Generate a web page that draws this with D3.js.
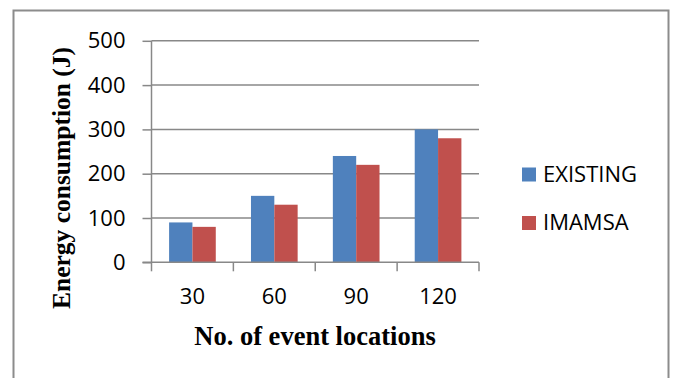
<!DOCTYPE html>
<html><head><meta charset="utf-8">
<script src="https://cdn.jsdelivr.net/npm/d3@7"></script>
<style>html,body{margin:0;padding:0;background:#fff;}svg{display:block;}</style>
</head><body>
<svg id="c" width="673" height="378"></svg>
<script>
const categories = ["30", "60", "90", "120"];
const seriesNames = ["EXISTING", "IMAMSA"];
const existing = [90, 150, 240, 300];
const imamsa = [80, 130, 220, 280];
const yTicks = [0, 100, 200, 300, 400, 500];
const colors = ["#4F81BD", "#C0504D"];

const svg = d3.select("#c");
const pLeft = 151.5, pRight = 479, pTop = 40.8, pBottom = 262.3;
const gridColor = "#888888";

// outer border
svg.append("rect").attr("x", 13.5).attr("y", 10.5).attr("width", 655).attr("height", 380)
  .attr("fill", "none").attr("stroke", "#8c8c8c").attr("stroke-width", 2);

const y = d3.scaleLinear().domain([0, 500]).range([pBottom, pTop]);
const x0 = d3.scaleBand().domain(categories).range([pLeft, pRight]).padding(0);
const x1 = d3.scaleBand().domain(seriesNames)
  .range([x0.bandwidth() * 0.215, x0.bandwidth() * 0.785]).padding(0);

// gridlines
svg.append("g").selectAll("line").data(yTicks.filter(d => d > 0)).join("line")
  .attr("x1", pLeft).attr("x2", pRight)
  .attr("y1", d => y(d)).attr("y2", d => y(d))
  .attr("stroke", gridColor).attr("stroke-width", 1.5);

// bars
const data = categories.map((c, i) => ({c, vals: [existing[i], imamsa[i]]}));
const g = svg.append("g").selectAll("g").data(data).join("g")
  .attr("transform", d => `translate(${x0(d.c)},0)`);
g.selectAll("rect").data(d => d.vals.map((v, j) => ({v, s: seriesNames[j], j})))
  .join("rect")
  .attr("x", d => x1(d.s)).attr("width", x1.bandwidth())
  .attr("y", d => y(d.v)).attr("height", d => y(0) - y(d.v))
  .attr("fill", d => colors[d.j]);

// y axis
const yAxis = d3.axisLeft(y).tickValues(yTicks).tickSize(9).tickPadding(17);
const ya = svg.append("g").attr("transform", `translate(${pLeft},0)`).call(yAxis);
ya.select(".domain").attr("stroke", gridColor).attr("stroke-width", 1.5).attr("d", `M0,${pTop}V${pBottom}`);
ya.selectAll(".tick line").attr("stroke", gridColor).attr("stroke-width", 1.5);
ya.selectAll(".tick text").attr("font-family", "'Open Sans', sans-serif").attr("font-size", 22).attr("fill", "#000");

// x axis
const xAxis = d3.axisBottom(x0).tickSize(0).tickPadding(26);
const xa = svg.append("g").attr("transform", `translate(0,${pBottom})`).call(xAxis);
xa.select(".domain").attr("stroke", gridColor).attr("stroke-width", 1.5).attr("d", `M${pLeft - 9},0H${pRight}`);
xa.selectAll(".tick text").attr("font-family", "'Open Sans', sans-serif").attr("font-size", 22).attr("fill", "#000");
// category boundary ticks
const bounds = categories.map(c => x0(c)).concat([pRight]);
svg.append("g").selectAll("line").data(bounds).join("line")
  .attr("x1", d => d).attr("x2", d => d).attr("y1", pBottom).attr("y2", pBottom + 9)
  .attr("stroke", gridColor).attr("stroke-width", 1.5);

// axis titles
svg.append("text").attr("x", 315).attr("y", 345).attr("text-anchor", "middle")
  .attr("font-family", "'Liberation Serif', 'Times New Roman', serif").attr("font-weight", "bold")
  .attr("font-size", 26.5).text("No. of event locations");
svg.append("text").attr("transform", "translate(70,178) rotate(-90)").attr("text-anchor", "middle")
  .attr("font-family", "'Liberation Serif', 'Times New Roman', serif").attr("font-weight", "bold")
  .attr("font-size", 25.5).text("Energy consumption (J)");

// legend
const lg = svg.append("g").selectAll("g").data(seriesNames).join("g")
  .attr("transform", (d, i) => `translate(522,${167.5 + i * 48.5})`);
lg.append("rect").attr("width", 14).attr("height", 14).attr("fill", (d, i) => colors[i]);
lg.append("text").attr("x", 21).attr("y", 14).attr("font-family", "'Open Sans', sans-serif")
  .attr("font-size", 22).attr("fill", "#000").text(d => d);
</script>
</body></html>
